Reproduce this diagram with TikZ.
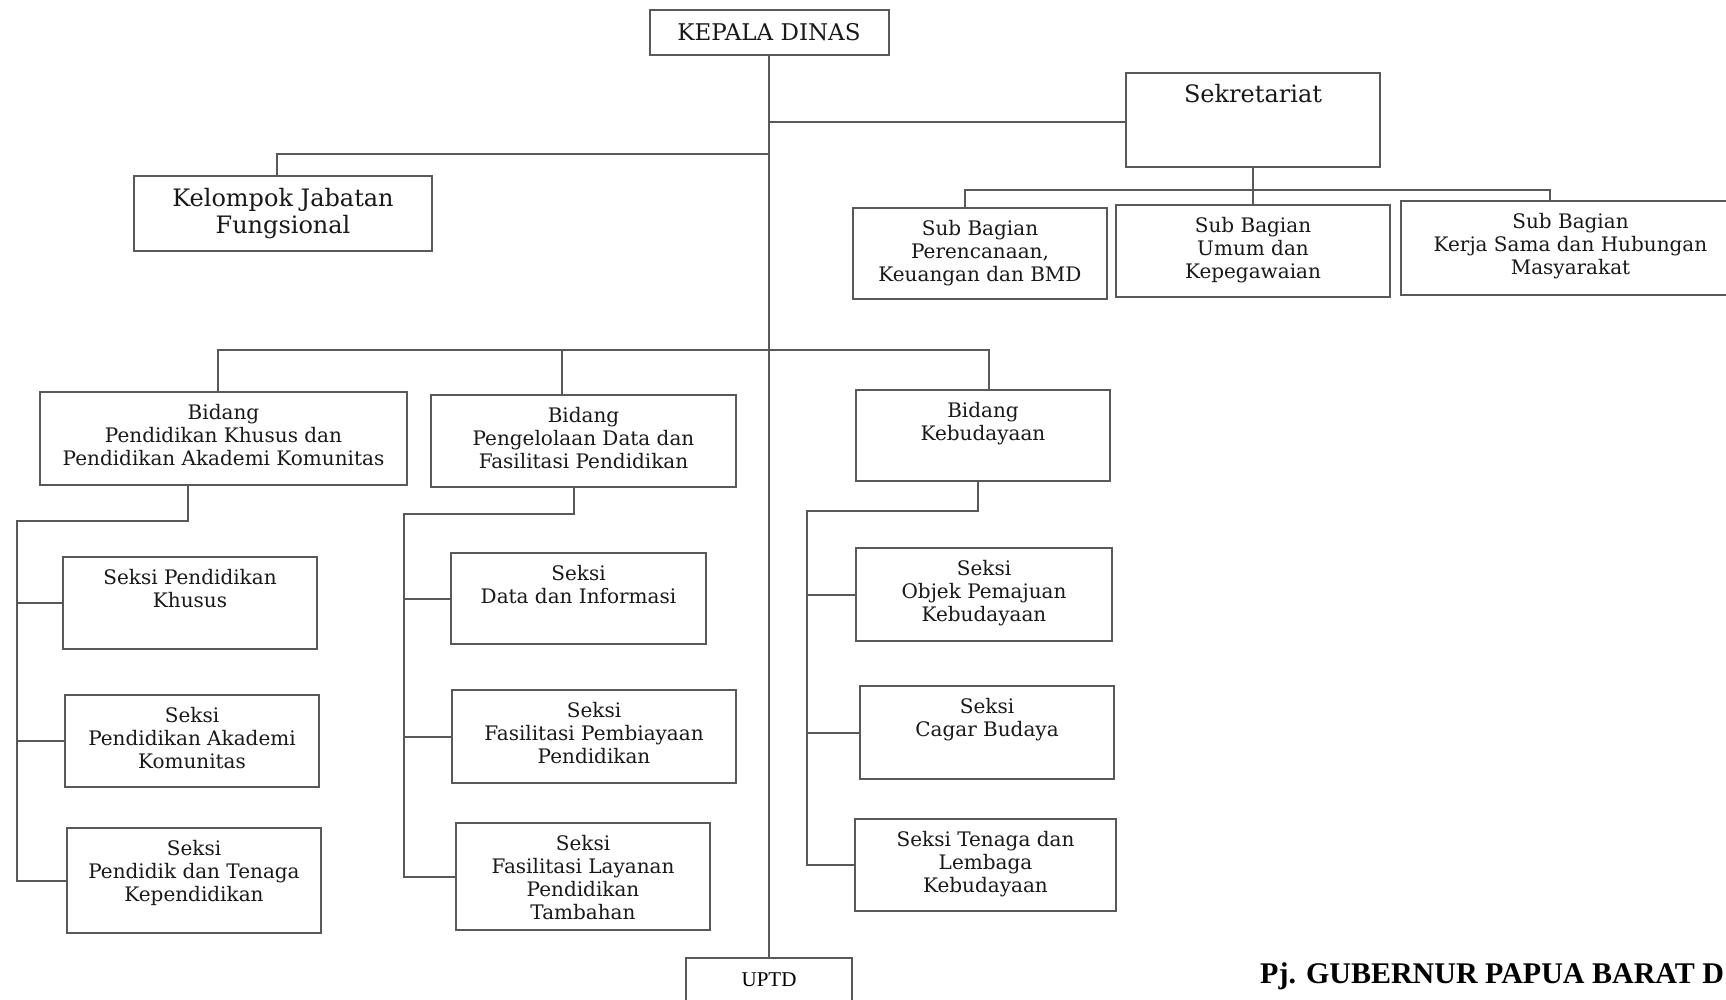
\documentclass[tikz,border=0pt]{standalone}
\usepackage{fontspec}
\setmainfont{DejaVu Serif}
\newfontfamily\gubfont{Liberation Serif}
\usetikzlibrary{positioning}

\begin{document}
\begin{tikzpicture}[x=1pt, y=-1pt,
        unit/.style={draw=black!65, line width=2pt, inner sep=0pt},
        link/.style={draw=black!65, line width=2pt},
        caption/.style={align=center, inner sep=0pt, text=black!90,
            font=\fontsize{20}{23}\selectfont},
        big/.style={font=\fontsize{24}{27}\selectfont}]

    \clip (0,0) rectangle (1726,1000);
    \fill[white] (0,0) rectangle (1726,1000);

    % pimpinan
    \node[unit, caption, font=\fontsize{23}{26}\selectfont,
        minimum width=239pt, minimum height=45pt] (kadis) at (769,32.5) {KEPALA DINAS};
    \node[unit, minimum width=254pt, minimum height=94pt] (sek) at (1253,120) {};
    \node[caption, big, below=12pt of sek.north] (sekT) {Sekretariat};
    \node[unit, caption, big, minimum width=298pt, minimum height=75pt] (kjf) at (283,213.5)
        {Kelompok Jabatan\\Fungsional};

    % sub bagian
    \node[unit, minimum width=254pt, minimum height=91pt] (sbRencana) at (980,253.5) {};
    \node[unit, minimum width=274pt, minimum height=92pt] (sbUmum) at (1253,251) {};
    \node[unit, minimum width=339pt, minimum height=94pt] (sbHumas) at (1570.5,248) {};
    \node[caption, below=13pt of sbRencana.north] (sbRencanaT) {Sub Bagian\\Perencanaan,\\Keuangan dan BMD};
    \node[caption, below=13pt of sbUmum.north] (sbUmumT) {Sub Bagian\\Umum dan\\Kepegawaian};
    \node[caption, below=13pt of sbHumas.north] (sbHumasT) {Sub Bagian\\Kerja Sama dan Hubungan\\Masyarakat};

    % bidang
    \node[unit, minimum width=367pt, minimum height=93pt] (bid1) at (223.5,438.5) {};
    \node[unit, minimum width=305pt, minimum height=92pt] (bid2) at (583.5,441) {};
    \node[unit, minimum width=254pt, minimum height=91pt] (bid3) at (983,435.5) {};
    \node[caption, below=13pt of bid1.north] (bid1T) {Bidang\\Pendidikan Khusus dan\\Pendidikan Akademi Komunitas};
    \node[caption, below=13pt of bid2.north] (bid2T) {Bidang\\Pengelolaan Data dan\\Fasilitasi Pendidikan};
    \node[caption, below=13pt of bid3.north] (bid3T) {Bidang\\Kebudayaan};

    % seksi
    \node[unit, minimum width=254pt, minimum height=92pt] (sk1a) at (190,603) {};
    \node[unit, minimum width=254pt, minimum height=92pt] (sk1b) at (192,741) {};
    \node[unit, minimum width=254pt, minimum height=105pt] (sk1c) at (194,880.5) {};
    \node[unit, minimum width=255pt, minimum height=91pt] (sk2a) at (578.5,598.5) {};
    \node[unit, minimum width=284pt, minimum height=93pt] (sk2b) at (594,736.5) {};
    \node[unit, minimum width=254pt, minimum height=107pt] (sk2c) at (583,876.5) {};
    \node[unit, minimum width=256pt, minimum height=93pt] (sk3a) at (984,594.5) {};
    \node[unit, minimum width=254pt, minimum height=93pt] (sk3b) at (987,732.5) {};
    \node[unit, minimum width=261pt, minimum height=92pt] (sk3c) at (985.5,865) {};
    \node[caption, below=13pt of sk1a.north] (sk1aT) {Seksi Pendidikan\\Khusus};
    \node[caption, below=13pt of sk1b.north] (sk1bT) {Seksi\\Pendidikan Akademi\\Komunitas};
    \node[caption, below=13pt of sk1c.north] (sk1cT) {Seksi\\Pendidik dan Tenaga\\Kependidikan};
    \node[caption, below=13pt of sk2a.north] (sk2aT) {Seksi\\Data dan Informasi};
    \node[caption, below=13pt of sk2b.north] (sk2bT) {Seksi\\Fasilitasi Pembiayaan\\Pendidikan};
    \node[caption, below=13pt of sk2c.north] (sk2cT) {Seksi\\Fasilitasi Layanan\\Pendidikan\\Tambahan};
    \node[caption, below=13pt of sk3a.north] (sk3aT) {Seksi\\Objek Pemajuan\\Kebudayaan};
    \node[caption, below=13pt of sk3b.north] (sk3bT) {Seksi\\Cagar Budaya};
    \node[caption, below=13pt of sk3c.north] (sk3cT) {Seksi Tenaga dan\\Lembaga\\Kebudayaan};

    \node[unit, minimum width=166pt, minimum height=44pt,
        font=\gubfont\fontsize{21}{23}\selectfont] (uptd) at (769,980) {UPTD};
    \node[anchor=base west, inner sep=0pt,
        font=\gubfont\bfseries\fontsize{30}{32}\selectfont] (gub) at (1260,983)
        {Pj. GUBERNUR PAPUA BARAT D};

    % garis
    \draw[link] (kadis.south) -- (uptd.north);
    \coordinate (jSek) at (769,122);
    \draw[link] (jSek) -- (jSek -| sek.west);
    \coordinate (jKel) at (769,154);
    \draw[link] (jKel) -| ([xshift=-6pt]kjf.north);

    \draw[link] (sek.south) -- (sbUmum.north);
    \coordinate (busSub) at (1253,190);
    \draw[link] ([xshift=-15pt]sbRencana.north) |- (busSub) -| ([xshift=-21pt]sbHumas.north);

    \coordinate (busBid) at (769,350);
    \draw[link] ([xshift=-6pt]bid1.north) |- (busBid) -| ([xshift=6pt]bid3.north);
    \draw[link] ([xshift=-22pt]bid2.north) -- ([xshift=-22pt]bid2.north |- busBid);

    \coordinate (spine1) at (17,521);
    \draw[link] ([xshift=-36pt]bid1.south) |- (spine1) |- (sk1c.west);
    \draw[link] (spine1 |- sk1a.west) -- (sk1a.west);
    \draw[link] (spine1 |- sk1b.west) -- (sk1b.west);

    \coordinate (spine2) at (404,514);
    \draw[link] ([xshift=-9.5pt]bid2.south) |- (spine2) |- (sk2c.west);
    \draw[link] (spine2 |- sk2a.west) -- (sk2a.west);
    \draw[link] (spine2 |- sk2b.west) -- (sk2b.west);

    \coordinate (spine3) at (807,511);
    \draw[link] ([xshift=-5pt]bid3.south) |- (spine3) |- (sk3c.west);
    \draw[link] (spine3 |- sk3a.west) -- (sk3a.west);
    \draw[link] (spine3 |- sk3b.west) -- (sk3b.west);

\end{tikzpicture}
\end{document}
